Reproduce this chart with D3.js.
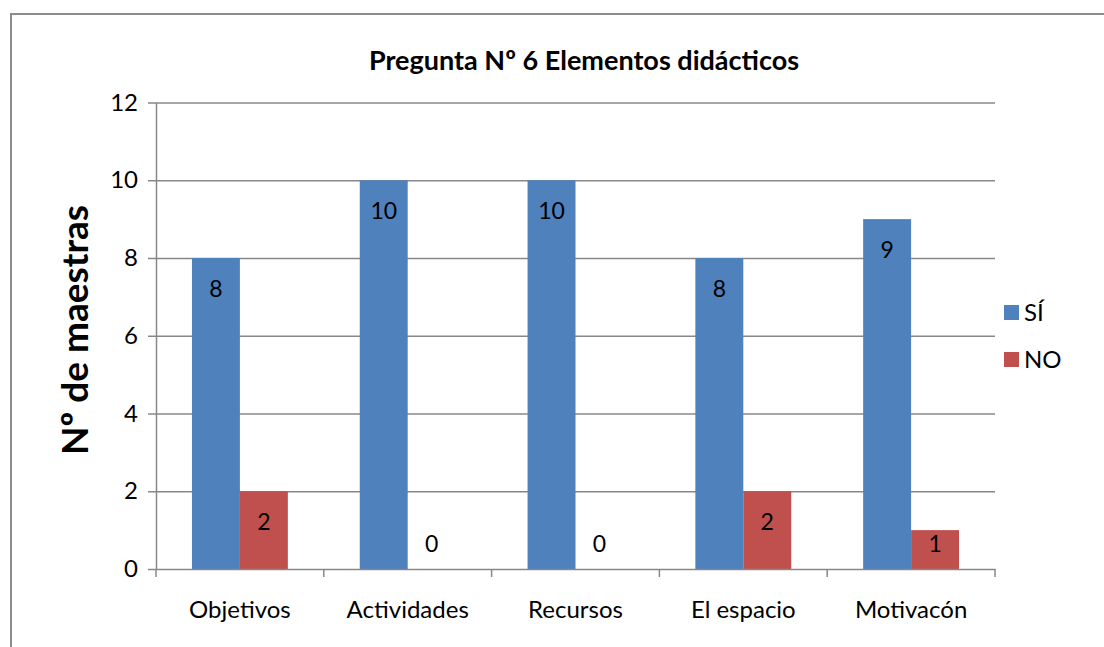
<!DOCTYPE html>
<html>
<head>
<meta charset="utf-8">
<script src="https://cdn.jsdelivr.net/npm/d3@7"></script>
<style>
  body { margin: 0; background: #fff; }
  text { font-family: Lato, 'Open Sans', sans-serif; fill: #000; }
</style>
</head>
<body>
<div id="chart"></div>
<script>
const categories = ['Objetivos', 'Actividades', 'Recursos', 'El espacio', 'Motivacón'];
const seriesNames = ['SÍ', 'NO'];
const siValues = [8, 10, 10, 8, 9];
const noValues = [2, 0, 0, 2, 1];
const yTicks = [0, 2, 4, 6, 8, 10, 12];
const colors = ['#4F81BD', '#C0504D'];

const width = 1104;
const height = 647;
const margin = { top: 102.5, left: 156, right: 109, bottom: 78 };
const fontSize = 24;

const svg = d3.select('#chart')
  .append('svg')
  .attr('width', width)
  .attr('height', height);

// marco exterior
svg.append('rect')
  .attr('x', 11)
  .attr('y', 14)
  .attr('width', 1110)
  .attr('height', 660)
  .attr('fill', 'none')
  .attr('stroke', '#8c8c8c')
  .attr('stroke-width', 2);

const x0 = d3.scaleBand()
  .domain(categories)
  .range([margin.left, width - margin.right])
  .paddingInner(0)
  .paddingOuter(0);

// gap width 150% -> 0.75 barra a cada lado
const x1 = d3.scaleBand()
  .domain(seriesNames)
  .range([0, x0.bandwidth()])
  .paddingOuter(0.75)
  .paddingInner(0);

const y = d3.scaleLinear()
  .domain([0, 12])
  .range([height - margin.bottom, margin.top]);

// grid
const gridY = d3.axisLeft(y)
  .tickValues(yTicks.slice(1))
  .tickFormat(() => '')
  .tickSize(-(width - margin.right - margin.left))
  .tickSizeOuter(0);

svg.append('g')
  .attr('transform', `translate(${margin.left}, 0)`)
  .call(gridY)
  .call(g => g.select('.domain').remove())
  .selectAll('line')
  .attr('stroke', '#888')
  .attr('stroke-width', 1.5);

// eje Y
const axisY = d3.axisLeft(y)
  .tickValues(yTicks)
  .tickSize(8)
  .tickSizeOuter(0)
  .tickPadding(10);

const gy = svg.append('g')
  .attr('transform', `translate(${margin.left}, 0)`)
  .call(axisY);
gy.select('.domain').attr('stroke', '#888').attr('stroke-width', 1.5);
gy.selectAll('line').attr('stroke', '#888').attr('stroke-width', 1.5);
gy.selectAll('text').attr('font-size', fontSize).attr('font-family', 'Lato, sans-serif');

// barras
const series = [siValues, noValues];
series.forEach((vals, s) => {
  svg.append('g')
    .selectAll('rect')
    .data(vals)
    .enter()
    .append('rect')
    .attr('x', (d, i) => x0(categories[i]) + x1(seriesNames[s]))
    .attr('y', d => y(d))
    .attr('width', x1.bandwidth())
    .attr('height', d => y(0) - y(d))
    .attr('fill', colors[s]);

  svg.append('g')
    .selectAll('text')
    .data(vals)
    .enter()
    .append('text')
    .attr('x', (d, i) => x0(categories[i]) + x1(seriesNames[s]) + x1.bandwidth() / 2)
    .attr('y', d => Math.min(y(d) + 31, y(0) - 25))
    .attr('dy', '0.35em')
    .attr('text-anchor', 'middle')
    .attr('font-size', 23)
    .text(d => d);
});

// eje X
const axisX = d3.axisBottom(x0)
  .tickSize(0)
  .tickPadding(32);

const gx = svg.append('g')
  .attr('transform', `translate(0, ${y(0)})`)
  .call(axisX);
gx.select('.domain').attr('stroke', '#888').attr('stroke-width', 1.5);
gx.selectAll('text').attr('font-size', fontSize).attr('font-family', 'Lato, sans-serif');

// marcas entre categorías
const bounds = categories.map(c => x0(c)).concat([width - margin.right]);
svg.append('g')
  .selectAll('line')
  .data(bounds)
  .enter()
  .append('line')
  .attr('x1', d => d)
  .attr('x2', d => d)
  .attr('y1', y(0))
  .attr('y2', y(0) + 8)
  .attr('stroke', '#888')
  .attr('stroke-width', 1.5);

// título
svg.append('text')
  .attr('x', 584)
  .attr('y', 61)
  .attr('dy', '0.35em')
  .attr('text-anchor', 'middle')
  .attr('font-size', 27)
  .attr('font-weight', 'bold')
  .text('Pregunta Nº 6 Elementos didácticos');

// título eje Y
svg.append('text')
  .attr('transform', 'translate(75, 330) rotate(-90)')
  .attr('dy', '0.35em')
  .attr('text-anchor', 'middle')
  .attr('font-size', 37)
  .attr('font-weight', 'bold')
  .text('Nº de maestras');

// leyenda
const legend = svg.append('g')
  .attr('transform', 'translate(1004, 305)');

seriesNames.forEach((name, i) => {
  const item = legend.append('g')
    .attr('transform', `translate(0, ${i * 47})`);
  item.append('rect')
    .attr('width', 15)
    .attr('height', 15)
    .attr('fill', colors[i]);
  item.append('text')
    .attr('x', 20)
    .attr('y', 8)
    .attr('dy', '0.35em')
    .attr('font-size', fontSize)
    .text(name);
});
</script>
</body>
</html>
